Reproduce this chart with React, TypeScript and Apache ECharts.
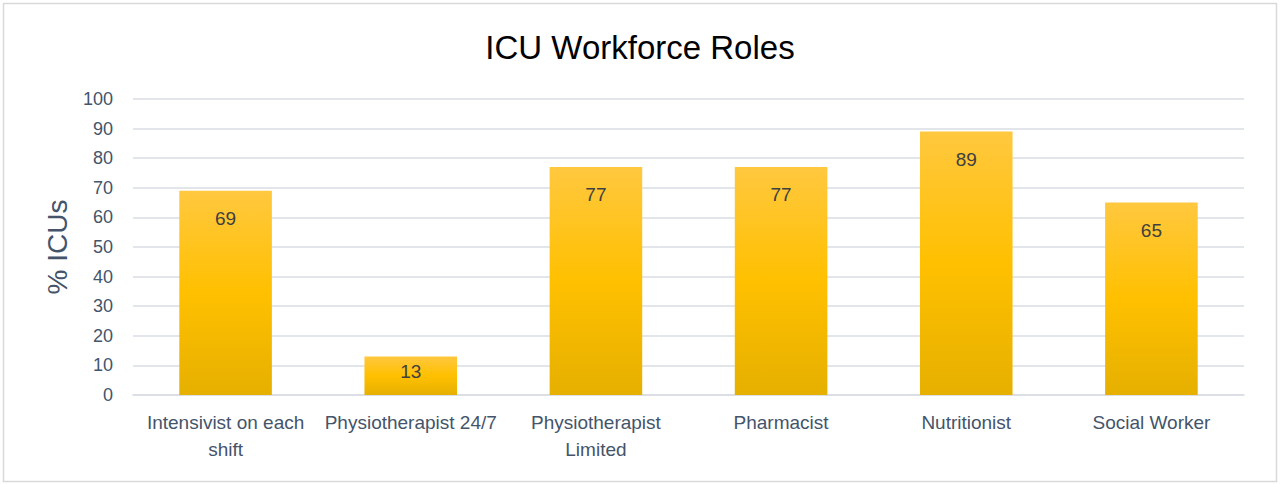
import { useEffect, useRef } from "react";
import * as echarts from "echarts";

const categories = [
  "Intensivist on each\nshift",
  "Physiotherapist 24/7",
  "Physiotherapist\nLimited",
  "Pharmacist",
  "Nutritionist",
  "Social Worker",
];
const values = [69, 13, 77, 77, 89, 65];

const FONT = "'Liberation Sans', Arial, sans-serif";
const AXIS_TEXT = "#44546A";

export default function App() {
  const ref = useRef<HTMLDivElement>(null);

  useEffect(() => {
    document.body.style.margin = "0";
    if (!ref.current) return;
    const chart = echarts.init(ref.current, undefined, { renderer: "svg" });
    chart.setOption({
      animation: false,
      backgroundColor: "#fff",
      textStyle: { fontFamily: FONT },
      title: {
        text: "ICU Workforce Roles",
        left: "center",
        top: 26,
        textStyle: { fontSize: 33, fontWeight: "normal", color: "#000", fontFamily: FONT },
      },
      graphic: [
        {
          type: "rect",
          shape: { x: 3.5, y: 3.5, width: 1273, height: 478 },
          style: { fill: "none", stroke: "#D9D9D9", lineWidth: 1.5 },
          silent: true,
        },
      ],
      grid: { left: 133, right: 36, top: 99, bottom: 90 },
      xAxis: {
        type: "category",
        data: categories,
        axisTick: { show: false },
        axisLine: { lineStyle: { color: "#D9DCE3", width: 1.5 } },
        axisLabel: { color: AXIS_TEXT, fontSize: 19, lineHeight: 27, margin: 14, interval: 0 },
      },
      yAxis: {
        type: "value",
        min: 0,
        max: 100,
        interval: 10,
        name: "% ICUs",
        nameLocation: "middle",
        nameGap: 62,
        nameTextStyle: { color: AXIS_TEXT, fontSize: 28 },
        axisLabel: { color: AXIS_TEXT, fontSize: 18, margin: 20 },
        splitLine: { lineStyle: { color: "#D9DCE3", width: 1.5 } },
      },
      series: [
        {
          type: "bar",
          barWidth: "50%",
          data: values.map((v) => ({
            value: v,
            label: { distance: v < 20 ? 5 : 18 },
          })),
          itemStyle: {
            color: new echarts.graphic.LinearGradient(0, 0, 0, 1, [
              { offset: 0, color: "#FFC83F" },
              { offset: 0.5, color: "#FFC000" },
              { offset: 1, color: "#E6B000" },
            ]),
          },
          label: {
            show: true,
            position: "insideTop",
            color: "#404040",
            fontSize: 19,
          },
        },
      ],
    });
    return () => chart.dispose();
  }, []);

  return <div ref={ref} style={{ width: 1280, height: 485 }} />;
}
